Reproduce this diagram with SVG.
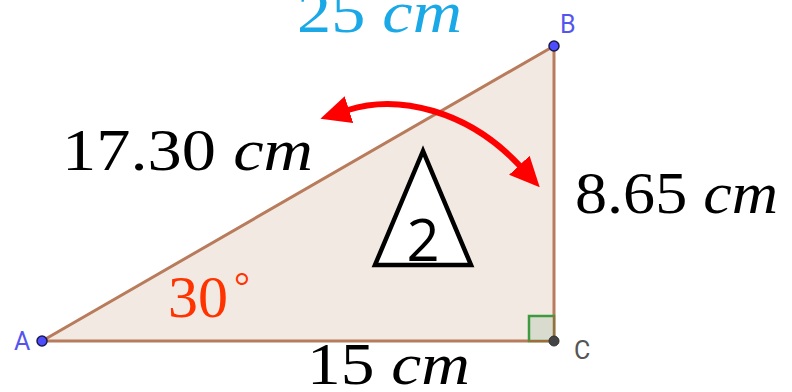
<svg xmlns="http://www.w3.org/2000/svg" width="792" height="392" viewBox="0 0 792 392">
<style>
.lbl{font-family:"Liberation Serif","DejaVu Serif",serif;font-size:60px;fill:#000}
.it{font-style:italic}
.pt{font-family:"Roboto","Liberation Sans",sans-serif;font-size:25px}
</style>
<defs>
<marker id="ah" viewBox="0 0 30 28" refX="1" refY="14" markerWidth="30" markerHeight="28" markerUnits="userSpaceOnUse" orient="auto-start-reverse">
<path d="M0,0 L30,14 L0,28 Z" fill="#ff0000"/>
</marker>
</defs>
<rect width="792" height="392" fill="#fff"/>
<g id="triangle">
<polygon points="42,341 554,46 554,341" fill="#f3e9e3" stroke="#b87c5c" stroke-width="3" stroke-linejoin="round"/>
<rect x="529" y="316" width="25" height="25" fill="#dadbcf" stroke="#3e9a3e" stroke-width="2.5"/>
<path d="M529,341 H554 V316" fill="none" stroke="#a06a3a" stroke-width="2"/>
</g>
<g id="connectors">
<path d="M348,110 C398,94 468,110 520,166" fill="none" stroke="#ff0000" stroke-width="6" marker-start="url(#ah)" marker-end="url(#ah)"/>
</g>
<g id="marker2">
<polygon points="423,151 375,265 471,265" fill="#fff" stroke="#000" stroke-width="4.5" stroke-linejoin="miter"/>
<text x="423" y="261" text-anchor="middle" font-family="Open Sans,Liberation Sans,sans-serif" font-size="58" fill="#000">2</text>
</g>
<g id="labels">
<text class="lbl" x="297" y="32" style="fill:#1aa9e6" textLength="165" lengthAdjust="spacingAndGlyphs">25 <tspan class="it" style="fill:#1aa9e6">cm</tspan></text>
<text class="lbl" x="62" y="170" textLength="251" lengthAdjust="spacingAndGlyphs">17.30 <tspan class="it">cm</tspan></text>
<text class="lbl" x="575" y="213" textLength="203" lengthAdjust="spacingAndGlyphs">8.65 <tspan class="it">cm</tspan></text>
<text class="lbl" x="307" y="384" textLength="163" lengthAdjust="spacingAndGlyphs">15 <tspan class="it">cm</tspan></text>
<text class="lbl" x="168" y="317" style="fill:#ff3300">30</text>
<text class="lbl" x="234" y="300" style="fill:#ff3300;font-size:40px">°</text>
</g>
<g id="pointA">
<circle cx="42" cy="341" r="5" fill="#4d4dff" stroke="#1a1a4d" stroke-width="1.5"/>
<text class="pt" x="14" y="350" fill="#5555ee">A</text>
</g>
<g id="pointB">
<circle cx="554" cy="46" r="5" fill="#4d4dff" stroke="#1a1a4d" stroke-width="1.5"/>
<text class="pt" x="560" y="33" fill="#5555ee">B</text>
</g>
<g id="pointC">
<circle cx="554" cy="341" r="5" fill="#444" stroke="#333" stroke-width="1"/>
<text class="pt" x="574" y="359" fill="#555">C</text>
</g>
</svg>
